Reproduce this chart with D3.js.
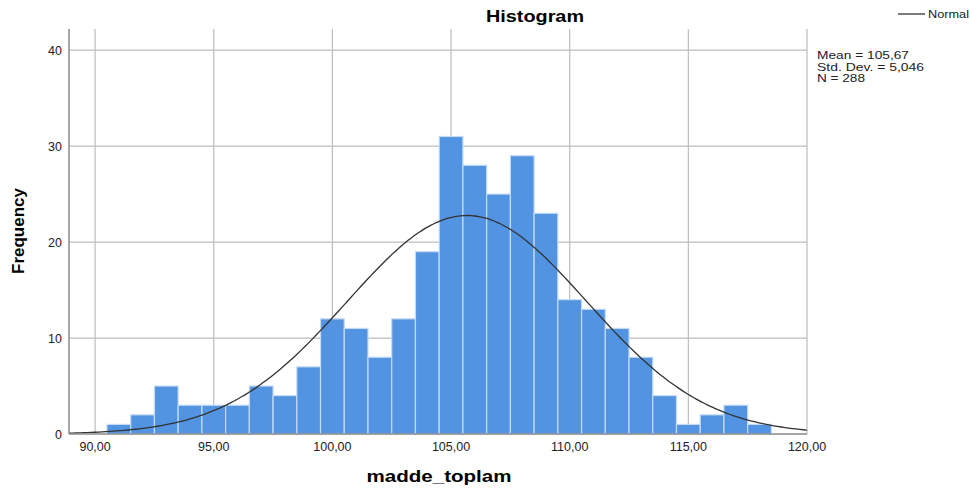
<!DOCTYPE html>
<html>
<head>
<meta charset="utf-8">
<script src="https://cdn.jsdelivr.net/npm/d3@7"></script>
<style>
  body { margin: 0; background: #fff; }
  text { font-family: "Liberation Sans", Arial, sans-serif; }
</style>
</head>
<body>
<div id="chart"></div>
<script>
// histogram bins (lower edges) and their counts
var binStarts = [90.5, 91.5, 92.5, 93.5, 94.5, 95.5, 96.5, 97.5, 98.5, 99.5,
                 100.5, 101.5, 102.5, 103.5, 104.5, 105.5, 106.5, 107.5, 108.5, 109.5,
                 110.5, 111.5, 112.5, 113.5, 114.5, 115.5, 116.5, 117.5];
var counts = [1, 2, 5, 3, 3, 3, 5, 4, 7, 12,
              11, 8, 12, 19, 31, 28, 25, 29, 23, 14,
              13, 11, 8, 4, 1, 2, 3, 1];
var binWidth = 1;
var xTicks = [90, 95, 100, 105, 110, 115, 120];
var yTicks = [0, 10, 20, 30, 40];
var stats = ["Mean = 105,67", "Std. Dev. = 5,046", "N = 288"];
var statWidths = [92, 107, 48];
var mean = 105.67, sd = 5.046, n = 288;

var width = 970, height = 489;
var margin = { top: 29, right: 163, bottom: 55, left: 69 };

var svg = d3.select("#chart").append("svg")
    .attr("width", width)
    .attr("height", height);

var x = d3.scaleLinear().domain([88.9, 120]).range([margin.left, width - margin.right]);
var y = d3.scaleLinear().domain([0, 42.2]).range([height - margin.bottom, margin.top]);

var fmt = function(d) { return d3.format(".2f")(d).replace(".", ","); };

// gridlines
svg.append("g").selectAll("line.vg")
    .data(xTicks)
    .join("line")
    .attr("x1", function(d) { return x(d); })
    .attr("x2", function(d) { return x(d); })
    .attr("y1", y.range()[1])
    .attr("y2", y.range()[0])
    .attr("stroke", "#bdbdbd")
    .attr("stroke-width", 1.2);

svg.append("g").selectAll("line.hg")
    .data(yTicks.slice(1))
    .join("line")
    .attr("x1", x.range()[0])
    .attr("x2", x.range()[1])
    .attr("y1", function(d) { return y(d); })
    .attr("y2", function(d) { return y(d); })
    .attr("stroke", "#bdbdbd")
    .attr("stroke-width", 1.2);

// bars
svg.append("g").selectAll("rect")
    .data(counts)
    .join("rect")
    .attr("x", function(d, i) { return x(binStarts[i]); })
    .attr("width", function(d, i) { return x(binStarts[i] + binWidth) - x(binStarts[i]); })
    .attr("y", function(d) { return y(d); })
    .attr("height", function(d) { return y(0) - y(d); })
    .attr("fill", "#5294e2")
    .attr("stroke", "#c6dbf5")
    .attr("stroke-width", 1.2);

// normal curve from the reported mean / sd / N
var curveXs = d3.range(0, 201).map(function(i) { return 88.9 + i * (120 - 88.9) / 200; });
var line = d3.line()
    .x(function(d) { return x(d); })
    .y(function(d) {
        return y(n * binWidth / (sd * Math.sqrt(2 * Math.PI)) * Math.exp(-0.5 * Math.pow((d - mean) / sd, 2)));
    })
    .curve(d3.curveBasis);

svg.append("path")
    .datum(curveXs)
    .attr("d", line)
    .attr("fill", "none")
    .attr("stroke", "#333")
    .attr("stroke-width", 1.3);

// axes frame
svg.append("line")
    .attr("x1", x.range()[0]).attr("x2", x.range()[0])
    .attr("y1", y.range()[1]).attr("y2", y.range()[0])
    .attr("stroke", "#8a8a8a").attr("stroke-width", 1.5);
svg.append("line")
    .attr("x1", x.range()[0]).attr("x2", x.range()[1])
    .attr("y1", y.range()[0]).attr("y2", y.range()[0])
    .attr("stroke", "#8a8a8a").attr("stroke-width", 1.5);

// tick labels
svg.append("g").selectAll("text")
    .data(yTicks)
    .join("text")
    .attr("x", x.range()[0] - 7)
    .attr("y", function(d) { return y(d) + 4.5; })
    .attr("text-anchor", "end")
    .attr("font-size", 12.5)
    .attr("fill", "#222")
    .text(function(d) { return d; });

svg.append("g").selectAll("text")
    .data(xTicks)
    .join("text")
    .attr("x", function(d) { return x(d); })
    .attr("y", y(0) + 17)
    .attr("text-anchor", "middle")
    .attr("font-size", 12.5)
    .attr("fill", "#222")
    .text(fmt);

// titles
svg.append("text")
    .attr("x", 535).attr("y", 22)
    .attr("text-anchor", "middle")
    .attr("font-size", 16).attr("font-weight", "bold")
    .attr("textLength", 98).attr("lengthAdjust", "spacingAndGlyphs")
    .text("Histogram");

svg.append("text")
    .attr("transform", "translate(24," + 231 + ") rotate(-90)")
    .attr("text-anchor", "middle")
    .attr("font-size", 17).attr("font-weight", "bold")
    .text("Frequency");

svg.append("text")
    .attr("x", 439).attr("y", 482)
    .attr("text-anchor", "middle")
    .attr("font-size", 17).attr("font-weight", "bold")
    .attr("textLength", 145).attr("lengthAdjust", "spacingAndGlyphs")
    .text("madde_toplam");

// legend
svg.append("line")
    .attr("x1", 898).attr("x2", 925)
    .attr("y1", 14).attr("y2", 14)
    .attr("stroke", "#333").attr("stroke-width", 1.3);
svg.append("text")
    .attr("x", 928).attr("y", 18)
    .attr("font-size", 11)
    .attr("fill", "#222")
    .attr("textLength", 41).attr("lengthAdjust", "spacingAndGlyphs")
    .attr("dy", 0)
    .text("Normal");

// stats
svg.append("g").selectAll("text")
    .data(stats)
    .join("text")
    .attr("x", 817)
    .attr("y", function(d, i) { return 59 + i * 11.5; })
    .attr("font-size", 10.5)
    .attr("fill", "#222")
    .attr("textLength", function(d, i) { return statWidths[i]; })
    .attr("lengthAdjust", "spacingAndGlyphs")
    .text(function(d) { return d; });
</script>
</body>
</html>
